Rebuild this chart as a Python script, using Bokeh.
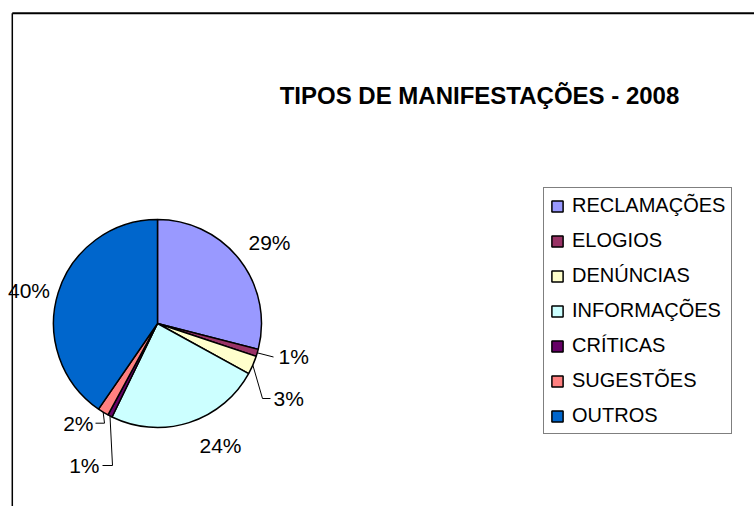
import math
from bokeh.plotting import figure
from bokeh.models import Range1d, Legend, LegendItem, ColumnDataSource
from bokeh.core.properties import value
from bokeh.embed import file_html
from bokeh.resources import INLINE

# ---------------- data ----------------
categories = ["RECLAMAÇÕES", "ELOGIOS", "DENÚNCIAS", "INFORMAÇÕES",
              "CRÍTICAS", "SUGESTÕES", "OUTROS"]
shares = [29.0, 1.1, 2.9, 24.2, 0.7, 1.7, 40.4]
colors = ["#9999FF", "#993366", "#FFFFCC", "#CCFFFF", "#660066", "#FF8080", "#0066CC"]
title_text = "TIPOS DE MANIFESTAÇÕES - 2008"

# ---------------- layout ----------------
W, H = 754, 506
CX, CY, R = 157, 183, 104
FONT = "Liberation Sans"
# label text offset from pie centre (right, down) in px, alignment, leader polyline points
label_layout = [
    ((112, -81), "center", None),
    ((121, 32.5), "left", [(116, 33.5)]),
    ((116, 74.5), "left", [(105, 75), (113, 75)]),
    ((63, 122), "center", None),
    ((-58, 141.5), "right", [(-45, 142), (-55, 142)]),
    ((-64, 99.5), "right", [(-53, 99.7), (-62, 99.7)]),
    ((-128.5, -33.5), "center", None),
]

total = sum(shares)
starts, ends, mids = [], [], []
acc = 0.0
for v in shares:
    f0 = acc / total
    acc += v
    f1 = acc / total
    # clockwise from 12 o'clock
    starts.append(math.pi / 2 - 2 * math.pi * f1)
    ends.append(math.pi / 2 - 2 * math.pi * f0)
    mids.append(math.pi / 2 - 2 * math.pi * (f0 + f1) / 2)

src = ColumnDataSource(dict(cat=categories, start=starts, end=ends, color=colors,
                            x=[CX] * len(shares), y=[CY] * len(shares)))

p = figure(width=W, height=H, output_backend="svg", toolbar_location=None,
           x_range=Range1d(0, W), y_range=Range1d(0, H),
           x_axis_location=None, y_axis_location=None, min_border=0)
p.grid.visible = False
p.outline_line_color = None
p.background_fill_color = "white"
p.border_fill_color = "white"

# chart-area border (top and left visible)
p.segment(x0=[11.8, 11.8], y0=[493.3, 493.3], x1=[W + 10, 11.8], y1=[493.3, -20],
          line_color="black", line_width=[2, 1.5])

wr = p.wedge(x="x", y="y", radius=R, start_angle="start", end_angle="end",
             fill_color="color", line_color="black", line_width=1.5, source=src)

# labels and leader lines
for i, v in enumerate(shares):
    (dx, dy), align, leader = label_layout[i]
    lx, ly = CX + dx, CY - dy
    p.text(x=[lx], y=[ly], text=[f"{round(v)}%"], text_font=value(FONT),
           text_font_size="21px", text_align=align, text_baseline="middle",
           text_color="black")
    if leader:
        xs = [CX + R * math.cos(mids[i])] + [CX + a for a, b in leader]
        ys = [CY + R * math.sin(mids[i])] + [CY - b for a, b in leader]
        p.line(xs, ys, line_color="black", line_width=1)

# title
p.text(x=[479], y=[411], text=[title_text], text_font=value(FONT),
       text_font_size="24px", text_font_style="bold", text_align="center",
       text_baseline="middle", text_color="black")

legend = Legend(items=[LegendItem(label=c, renderers=[wr], index=i)
                       for i, c in enumerate(categories)],
                location=(543, 72), orientation="vertical",
                label_text_font=FONT, label_text_font_size="20px",
                label_text_color="black",
                label_height=20, glyph_width=14, glyph_height=14,
                spacing=12, padding=6, margin=0, label_standoff=8,
                border_line_color="black", border_line_width=1,
                background_fill_color="white", background_fill_alpha=1)
p.add_layout(legend)

open("out.html", "w").write(file_html(p, INLINE))
